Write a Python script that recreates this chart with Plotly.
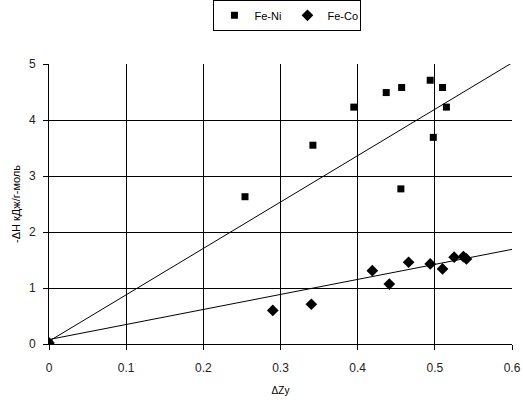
import plotly.graph_objects as go

# Fe-Ni data
feni_x = [0.0, 0.254, 0.342, 0.395, 0.437, 0.457, 0.494, 0.510, 0.515, 0.498, 0.456]
feni_y = [0.02, 2.63, 3.55, 4.23, 4.49, 4.58, 4.71, 4.58, 4.23, 3.69, 2.77]
# Fe-Co data
feco_x = [0.0, 0.290, 0.340, 0.419, 0.441, 0.466, 0.494, 0.510, 0.525, 0.537, 0.541]
feco_y = [0.02, 0.60, 0.71, 1.31, 1.07, 1.46, 1.43, 1.34, 1.55, 1.56, 1.52]
# trend line endpoints
trend_x = [0.0, 0.6]
feni_trend_y = [0.05, 5.02]
feco_trend_y = [0.08, 1.69]

x_ticks = [0, 0.1, 0.2, 0.3, 0.4, 0.5, 0.6]
y_ticks = [0, 1, 2, 3, 4, 5]

fig = go.Figure()
fig.add_trace(go.Scatter(x=trend_x, y=feni_trend_y, mode="lines",
                         line=dict(color="black", width=1), showlegend=False, hoverinfo="skip"))
fig.add_trace(go.Scatter(x=trend_x, y=feco_trend_y, mode="lines",
                         line=dict(color="black", width=1), showlegend=False, hoverinfo="skip"))
fig.add_trace(go.Scatter(x=feni_x, y=feni_y, mode="markers", name="Fe-Ni",
                         marker=dict(symbol="square", size=7, color="black")))
fig.add_trace(go.Scatter(x=feco_x, y=feco_y, mode="markers", name="Fe-Co",
                         marker=dict(symbol="diamond", size=9, color="black")))

fig.update_layout(
    width=523, height=403,
    margin=dict(l=49, r=11, t=64, b=59),
    paper_bgcolor="white", plot_bgcolor="white",
    font=dict(family="Liberation Sans, Arial, sans-serif", size=12, color="#222"),
    legend=dict(orientation="h", x=0.515, xanchor="center", y=0.962, yanchor="middle",
                yref="container", xref="paper",
                bordercolor="black", borderwidth=1, bgcolor="white",
                font=dict(size=11, color="black"), itemwidth=30, entrywidth=28,
                tracegroupgap=0),
    xaxis=dict(range=[0, 0.6], tickvals=x_ticks, ticktext=[str(v) for v in x_ticks],
               showgrid=True, gridcolor="black", gridwidth=1, automargin=False,
               showline=True, linecolor="black", linewidth=1,
               ticks="outside", ticklen=5, tickcolor="black", zeroline=False,
               ticklabelstandoff=8,
               title=dict(text="ΔZy", font=dict(size=10, color="black"), standoff=12)),
    yaxis=dict(range=[0, 5], tickvals=y_ticks, automargin=False,
               showgrid=True, gridcolor="black", gridwidth=1,
               showline=True, linecolor="black", linewidth=1,
               ticks="outside", ticklen=5, tickcolor="black", zeroline=False,
               ticklabelstandoff=5,
               title=dict(text="-ΔН кДж/г-моль", font=dict(size=11, color="black"), standoff=6)),
)

fig.write_html("out.html")
